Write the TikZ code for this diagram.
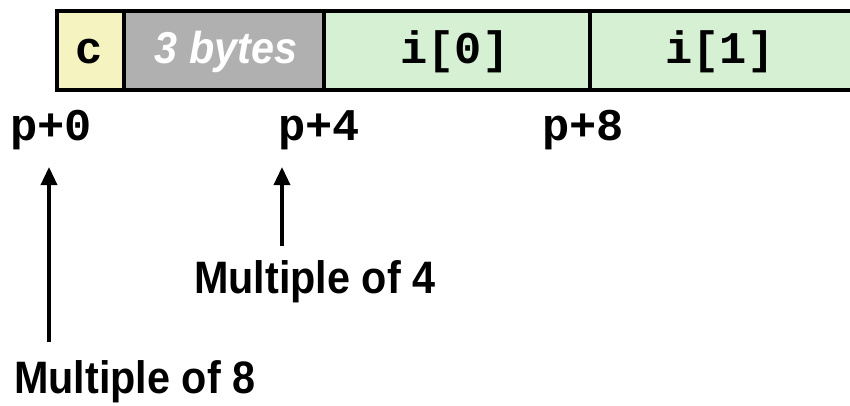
\documentclass[tikz,border=0pt]{standalone}
\usepackage{fontspec}
\setmainfont{Liberation Sans}
\setsansfont{Liberation Sans}
\setmonofont{Liberation Mono}
\usetikzlibrary{arrows.meta}
\definecolor{cyel}{RGB}{245,243,192}
\definecolor{cgray}{RGB}{176,176,176}
\definecolor{cgreen}{RGB}{213,240,210}
\tikzset{
  cell/.style={draw=black, line width=3pt},
  mono/.style={font=\fontsize{34}{40}\selectfont\ttfamily\bfseries, inner sep=0pt},
  label/.style={font=\fontsize{31}{36}\selectfont\sffamily\bfseries, inner sep=0pt},
  pad/.style={font=\fontsize{31}{36}\selectfont\sffamily\bfseries\itshape, text=white, inner sep=0pt},
  uparrow/.style={line width=2.6pt, -{Triangle[width=12pt,length=13.5pt]}}
}
\begin{document}
\begin{tikzpicture}[x=0.75pt, y=-0.75pt]
\useasboundingbox (0,0) rectangle (850,405);
\clip (0,0) rectangle (850,405);
% cells
\draw[cell, fill=cyel]   (57,10.5) rectangle (124,89.5);
\draw[cell, fill=cgray]  (124,10.5) rectangle (324,89.5);
\draw[cell, fill=cgreen] (324,10.5) rectangle (590,89.5);
\draw[cell, fill=cgreen] (590,10.5) rectangle (858,89.5);
% cell texts
\node[mono, anchor=base] (tc) at (89,63) {c};
\node[pad, anchor=base] (tpad) at (226,63) {\scalebox{1}[1.08]{3 bytes}};
\node[mono, anchor=base] (ti0) at (455,63) {i[0]};
\node[mono, anchor=base] (ti1) at (720,63) {i[1]};
% offsets
\node[mono, anchor=base] (p0) at (51,140) {p+0};
\node[mono, anchor=base] (p4) at (319,140) {p+4};
\node[mono, anchor=base] (p8) at (583,140) {p+8};
% labels
\node[label, anchor=base west] (m4) at (194,293) {\scalebox{1}[1.1]{Multiple of 4}};
\node[label, anchor=base west] (m8) at (14,393) {\scalebox{1}[1.1]{Multiple of 8}};
% arrows
\coordinate (a8s) at (49,342);
\coordinate (a8e) at (49,167);
\coordinate (a4s) at (282,246);
\coordinate (a4e) at (282,167);
\draw[uparrow] (a8s) -- (a8e);
\draw[uparrow] (a4s) -- (a4e);
\end{tikzpicture}
\end{document}
